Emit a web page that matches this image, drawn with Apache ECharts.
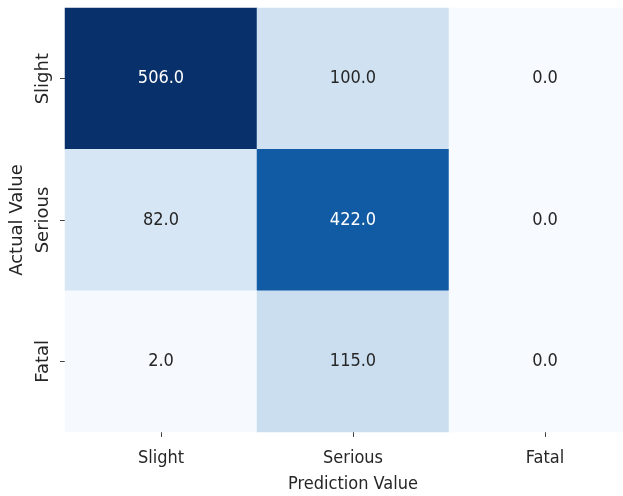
<!DOCTYPE html>
<html>
<head>
<meta charset="utf-8">
<script src="https://cdn.jsdelivr.net/npm/echarts@6/dist/echarts.min.js"></script>
<style>
  html, body { margin: 0; padding: 0; background: #ffffff; }
  #chart { width: 623px; height: 496px; }
</style>
</head>
<body>
<div id="chart"></div>
<script>
// Confusion matrix: rows are actual classes, columns are predicted classes
var predictedClasses = ['Slight', 'Serious', 'Fatal'];
var actualClasses = ['Slight', 'Serious', 'Fatal'];
var rowSlight = [506, 100, 0];
var rowSerious = [82, 422, 0];
var rowFatal = [2, 115, 0];
var xAxisTitle = 'Prediction Value';
var yAxisTitle = 'Actual Value';

// matplotlib "Blues" colour map stops
var bluesStops = ['#f7fbff', '#deebf7', '#c6dbef', '#9ecae1', '#6baed6',
                  '#4292c6', '#2171b5', '#08519c', '#08306b'];

var rows = [rowSlight, rowSerious, rowFatal];
var maxValue = Math.max.apply(null, rows.map(function (r) { return Math.max.apply(null, r); }));

var cells = [];
rows.forEach(function (row, yi) {
  row.forEach(function (v, xi) {
    cells.push({
      value: [xi, yi, v],
      label: { color: v / maxValue > 0.6 ? '#ffffff' : '#262626' }
    });
  });
});

var hFont = 'DejaVu Sans Condensed';
var vFont = 'DejaVu Sans';
var textColor = '#262626';

var chart = echarts.init(document.getElementById('chart'), null, { renderer: 'canvas' });
chart.setOption({
  animation: false,
  backgroundColor: '#ffffff',
  grid: {
    left: 65, top: 8, width: 576, height: 424,
    containLabel: false,
    outerBoundsMode: 'none'
  },
  xAxis: {
    type: 'category',
    data: predictedClasses,
    name: xAxisTitle,
    nameLocation: 'middle',
    nameGap: 43,
    nameTextStyle: { fontFamily: hFont, fontSize: 18, color: textColor },
    axisLine: { show: false },
    axisTick: { show: true, alignWithLabel: true, length: 5, lineStyle: { color: '#444', width: 1 } },
    axisLabel: { margin: 17, fontFamily: hFont, fontSize: 18, color: textColor },
    splitLine: { show: false }
  },
  yAxis: {
    type: 'category',
    data: actualClasses,
    inverse: true,
    name: yAxisTitle,
    nameLocation: 'middle',
    nameGap: 35,
    nameTextStyle: { fontFamily: vFont, fontSize: 18, color: textColor },
    axisLine: { show: false },
    axisTick: { show: true, alignWithLabel: true, length: 5, lineStyle: { color: '#444', width: 1 } },
    axisLabel: { rotate: 90, margin: 13, fontFamily: vFont, fontSize: 18, color: textColor },
    splitLine: { show: false }
  },
  visualMap: {
    show: false,
    min: 0,
    max: maxValue,
    dimension: 2,
    inRange: { color: bluesStops }
  },
  series: [{
    type: 'heatmap',
    data: cells,
    label: {
      show: true,
      fontFamily: hFont,
      fontSize: 18,
      formatter: function (p) { return p.value[2].toFixed(1); }
    },
    itemStyle: { borderWidth: 0 },
    emphasis: { disabled: true }
  }]
});
</script>
</body>
</html>
